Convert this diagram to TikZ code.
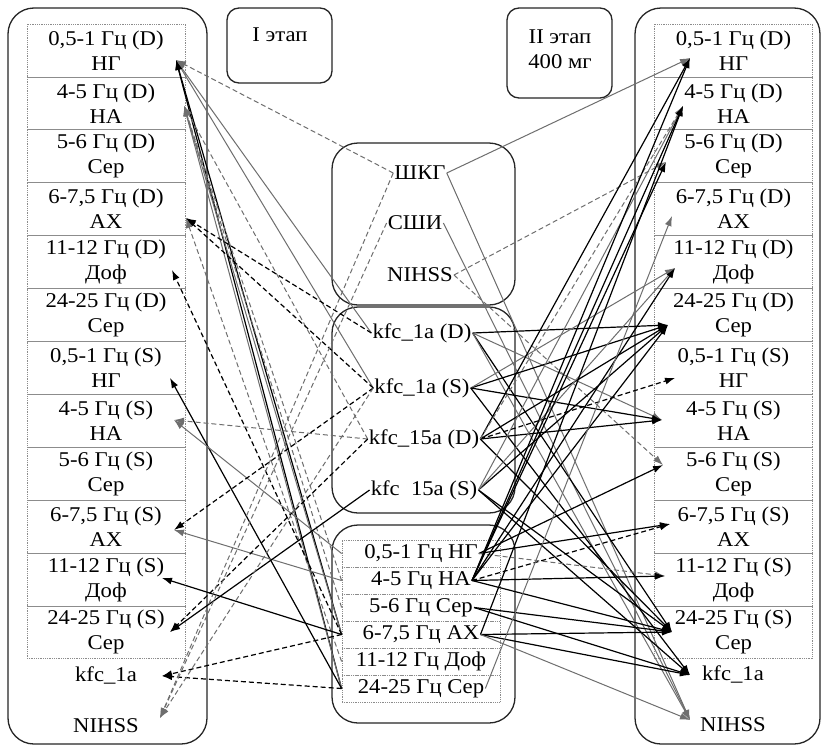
\documentclass[tikz,border=0pt]{standalone}
\usepackage{fontspec}
\setmainfont{Liberation Serif}[FakeStretch=1.08]
\usetikzlibrary{arrows.meta}
\definecolor{lg}{HTML}{6E6E6E}
\begin{document}
\begin{tikzpicture}[x=1pt,y=-1pt,
  every node/.style={font=\fontsize{21}{25}\selectfont, inner sep=1pt},
  bigbox/.style={draw=black!85, line width=1.3pt, rounded corners=26pt},
  stagebox/.style={draw=black!85, line width=1.3pt, rounded corners=12pt},
  cellbox/.style={draw=black!45, densely dotted, line width=0.8pt, minimum width=158pt, minimum height=52.9pt, align=center, inner sep=0pt},
  rowbox/.style={draw=black!45, densely dotted, line width=0.8pt, minimum width=158pt, minimum height=27pt, inner sep=0pt},
  lbl/.style={align=center},
  ab/.style={draw=black, line width=1.2pt, -{Latex[length=10pt,width=7pt]}},
  abd/.style={ab, dash pattern=on 5pt off 3pt},
  ag/.style={draw=lg, line width=1pt, -{Latex[length=10pt,width=7pt]}},
  agd/.style={ag, dash pattern=on 5pt off 3pt}
]
\useasboundingbox (0,0) rectangle (824,747);
\fill[white] (0,0) rectangle (824,747);

% big boxes
\draw[bigbox] (8,8) rectangle (207,744);
\draw[bigbox] (635,8) rectangle (820,744);
\draw[stagebox] (227,8) rectangle (332,83);
\draw[stagebox] (507,8) rectangle (612,98);
\node[lbl] (st1) at (280,35) {I этап};
\node[lbl] (st2) at (560,49) {II этап\\400 мг};
\draw[bigbox] (332,143) rectangle (515,305);
\draw[bigbox] (332,307) rectangle (515,513);
\draw[bigbox] (332,525) rectangle (515,723);

% left column
\node[cellbox] (L1)  at (106,50.45)  {0,5-1 Гц (D)\\НГ};
\node[cellbox] (L2)  at (106,103.35) {4-5 Гц (D)\\НА};
\node[cellbox] (L3)  at (106,156.25) {5-6 Гц (D)\\Сер};
\node[cellbox] (L4)  at (106,209.15) {6-7,5 Гц (D)\\АХ};
\node[cellbox] (L5)  at (106,262.05) {11-12 Гц (D)\\Доф};
\node[cellbox] (L6)  at (106,314.95) {24-25 Гц (D)\\Сер};
\node[cellbox] (L7)  at (106,367.85) {0,5-1 Гц (S)\\НГ};
\node[cellbox] (L8)  at (106,420.75) {4-5 Гц (S)\\НА};
\node[cellbox] (L9)  at (106,473.65) {5-6 Гц (S)\\Сер};
\node[cellbox] (L10) at (106,526.55) {6-7,5 Гц (S)\\АХ};
\node[cellbox] (L11) at (106,579.45) {11-12 Гц (S)\\Доф};
\node[cellbox] (L12) at (106,632.35) {24-25 Гц (S)\\Сер};
\node (Lk) at (106,675) {kfc\_1a};
\node (Ln) at (106,726) {NIHSS};

% right column
\node[cellbox] (R1)  at (733.5,50.45)  {0,5-1 Гц (D)\\НГ};
\node[cellbox] (R2)  at (733.5,103.35) {4-5 Гц (D)\\НА};
\node[cellbox] (R3)  at (733.5,156.25) {5-6 Гц (D)\\Сер};
\node[cellbox] (R4)  at (733.5,209.15) {6-7,5 Гц (D)\\АХ};
\node[cellbox] (R5)  at (733.5,262.05) {11-12 Гц (D)\\Доф};
\node[cellbox] (R6)  at (733.5,314.95) {24-25 Гц (D)\\Сер};
\node[cellbox] (R7)  at (733.5,367.85) {0,5-1 Гц (S)\\НГ};
\node[cellbox] (R8)  at (733.5,420.75) {4-5 Гц (S)\\НА};
\node[cellbox] (R9)  at (733.5,473.65) {5-6 Гц (S)\\Сер};
\node[cellbox] (R10) at (733.5,526.55) {6-7,5 Гц (S)\\АХ};
\node[cellbox] (R11) at (733.5,579.45) {11-12 Гц (S)\\Доф};
\node[cellbox] (R12) at (733.5,632.35) {24-25 Гц (S)\\Сер};
\node (Rk) at (733,674) {kfc\_1a};
\node (Rn) at (733,725) {NIHSS};

% centre nodes
\node (shkg)  at (420,173) {ШКГ};
\node (sshi)  at (415,223) {СШИ};
\node (nihss) at (420,275) {NIHSS};
\node (k1d)  at (422,333) {kfc\_1a (D)};
\node (k1s)  at (422,388) {kfc\_1a (S)};
\node (k15d) at (424,439) {kfc\_15a (D)};
\node (k15s) at (424,490) {kfc\ \ 15a (S)};

\node[rowbox] (B1) at (421,553.5) {};
\node[rowbox] (B2) at (421,580.5) {};
\node[rowbox] (B3) at (421,607.5) {};
\node[rowbox] (B4) at (421,634.5) {};
\node[rowbox] (B5) at (421,661.5) {};
\node[rowbox] (B6) at (421,688.5) {};
\node (b1) at (421,553.5) {0,5-1 Гц НГ};
\node (b2) at (421,580.5) {4-5 Гц НА};
\node (b3) at (421,607.5) {5-6 Гц Сер};
\node (b4) at (421,634.5) {6-7,5 Гц АХ};
\node (b5) at (421,661.5) {11-12 Гц Доф};
\node (b6) at (421,688.5) {24-25 Гц Сер};

% arrow tips
\coordinate (Lt1) at (176,60);
\coordinate (Lt2) at (184,106);
\coordinate (Lt4) at (186,218);
\coordinate (Lt5) at (172,270);
\coordinate (Lt7) at (170,378);
\coordinate (Lt8) at (174,420);
\coordinate (Lt10) at (174,530);
\coordinate (Lt11) at (162,578);
\coordinate (Lt12) at (170,632);
\coordinate (Ltk) at (162,676);
\coordinate (Ltn) at (160,718);
\coordinate (Rt1) at (690,58);
\coordinate (Rt2) at (683,106);
\coordinate (Rt3) at (666,162);
\coordinate (Rt4) at (672,216);
\coordinate (Rt5) at (675,268);
\coordinate (Rt6) at (668,325);
\coordinate (Rt7) at (675,378);
\coordinate (Rt8) at (662,420);
\coordinate (Rt9) at (663,465);
\coordinate (Rt10) at (670,524);
\coordinate (Rt11) at (665,576);
\coordinate (Rt12) at (672,632);
\coordinate (Rtk) at (690,675);
\coordinate (Rtn) at (690,720);

% ---- stage I connectors
\draw[agd] (shkg.west) -- (Lt1);
\draw[ag] (k1d.west) -- (Lt1);
\draw[ag] (k1s.west) -- (Lt1);
\draw[ab] (B6.west) -- (Lt1);
\draw[ab] (B4.west) -- (Lt1);
\draw[ag] (B4.west) -- (Lt2);
\draw[ag] (B6.west) -- (Lt2);
\draw[agd] (B2.west) -- (Lt2);
\draw[agd] (k15d.west) -- (Lt2);
\draw[agd] (B3.west) -- (Lt2);
\draw[abd] (k1d.west) -- (Lt4);
\draw[abd] (k1s.west) -- (Lt4);
\draw[agd] (B5.west) -- (Lt4);
\draw[abd] (B4.west) -- (Lt5);
\draw[ab] (B6.west) -- (Lt7);
\draw[agd] (k15d.west) -- (Lt8);
\draw[ag] (B1.west) -- (Lt8);
\draw[abd] (k1s.west) -- (Lt10);
\draw[ag] (B2.west) -- (Lt10);
\draw[ab] (B4.west) -- (Lt11);
\draw[ab] (k15s.west) -- (Lt12);
\draw[abd] (k15d.west) -- (Lt12);
\draw[abd] (B4.west) -- (Ltk);
\draw[abd] (B6.west) -- (Ltk);
\draw[agd] (shkg.west) -- (Ltn);
\draw[agd] (sshi.west) -- (Ltn);
\draw[agd] (k1s.west) -- (Ltn);

% ---- stage II connectors
\draw[ag] (shkg.east) -- (Rt1);
\draw[ag] (shkg.east) -- (Rtn);
\draw[ag] (sshi.east) -- (Rtn);
\draw[agd] (nihss.east) -- (Rt3);
\draw[agd] (nihss.east) -- (Rt9);
\draw[ab] (k1d.east) -- (Rt6);
\draw[ag] (k1d.east) -- (Rt8);
\draw[ab] (k1d.east) -- (Rt12);
\draw[ag] (k1d.east) -- (Rtn);
\draw[ab] (k1s.east) -- (Rt6);
\draw[ag] (k1s.east) -- (Rt5);
\draw[ab] (k1s.east) -- (Rt8);
\draw[ab] (k1s.east) -- (Rtk);
\draw[ab] (k15d.east) -- (Rt1);
\draw[ab] (k15d.east) -- (Rt6);
\draw[ab] (k15d.east) -- (Rt8);
\draw[ab] (k15d.east) -- (Rt12);
\draw[abd] (k15d.east) -- (Rt7);
\draw[agd] (k15d.east) -- (Rt2);
\draw[ab] (k15s.east) -- (Rt6);
\draw[ab] (k15s.east) -- (Rt12);
\draw[ab] (k15s.east) -- (Rtk);
\draw[ag] (k15s.east) -- (Rt5);
\draw[ag] (k15s.east) -- (Rt2);
\draw[ab] (b1.east) -- (Rt9);
\draw[ab] (b1.east) -- (Rt10);
\draw[agd] (b1.east) -- (Rt11);
\draw[ab] (b2.east) -- (Rt1);
\draw[ab] (b2.east) -- (Rt2);
\draw[ab] (b2.east) -- (Rt3);
\draw[ab] (b2.east) -- (Rt5);
\draw[ab] (b2.east) -- (Rt6);
\draw[abd] (b2.east) -- (Rt10);
\draw[ab] (b2.east) -- (Rt11);
\draw[ab] (b2.east) -- (Rt12);
\draw[ab] (b3.east) -- (Rt12);
\draw[ab] (b3.east) -- (Rtk);
\draw[ab] (b4.east) -- (Rtk);
\draw[ab] (b4.east) -- (Rt12);
\draw[ab] (b4.east) -- (Rt2);
\draw[ag] (b4.east) -- (Rtn);
\draw[ag] (b6.east) -- (Rt4);
\end{tikzpicture}
\end{document}
